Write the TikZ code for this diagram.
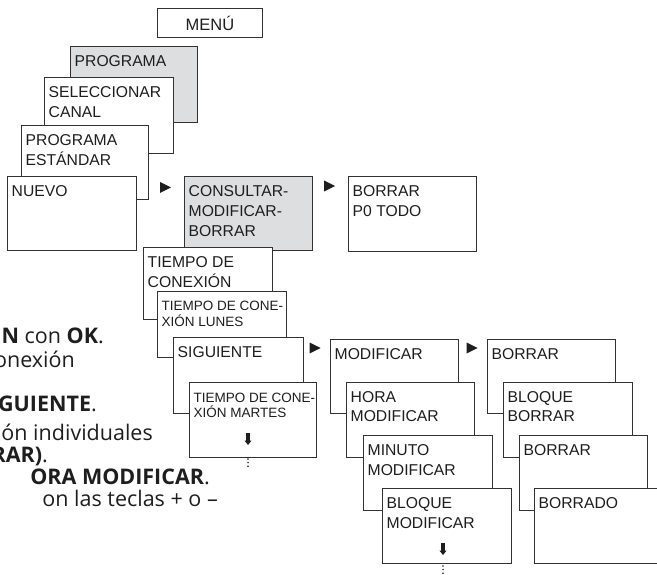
\documentclass[tikz,border=0pt]{standalone}
\usepackage{fontspec}
\setmainfont{Liberation Sans}
\newfontfamily\bodyfont{Open Sans}
\usetikzlibrary{calc}
\definecolor{boxgray}{RGB}{221,222,224}
\definecolor{edge}{RGB}{50,50,50}
\definecolor{ink}{RGB}{30,30,30}
\newcommand\twolines[2]{\vtop{\hbox{#1}\hbox{#2}}}
\newcommand\threelines[3]{\vtop{\hbox{#1}\hbox{#2}\hbox{#3}}}
\tikzset{
  panel/.style={draw=edge, line width=1pt, inner sep=0pt, anchor=north west, text=ink},
  bigtext/.style={font=\fontsize{15.7}{20}\selectfont, inner sep=0pt, text=ink},
  smalltext/.style={font=\fontsize{13.5}{16}\selectfont, inner sep=0pt, text=ink},
  bodytext/.style={font=\bodyfont\fontsize{21.5}{22}\selectfont, inner sep=0pt, text=ink, anchor=base east},
}
% name, x, y, width, height, fill, text style, text, baseline offset
\newcommand\panelbox[9]{%
  \node[panel, fill=#6, minimum width=#4pt, minimum height=#5pt] (#1) at (#2,#3) {};
  \node[#7, anchor=base west] (#1-t) at ($(#1.north west)+(4.5,#9)$) {#8};
}
\newcommand\tri[2]{\fill[ink] (#1,#2) -- (#1+11,#2+5.5) -- (#1,#2+11) -- cycle;}
\newcommand\dnarrow[2]{%
  \fill[ink] (#1-1.8,#2) rectangle (#1+1.8,#2+8);
  \fill[ink] (#1-3.6,#2+7.5) -- (#1+3.6,#2+7.5) -- (#1,#2+12) -- cycle;}
\newcommand\threedots[2]{%
  \foreach \d in {0,3.6,7.2} {\fill[ink] (#1,#2+\d) circle (0.85);}}
\begin{document}
\begin{tikzpicture}[x=1pt, y=-1pt]
\useasboundingbox (0,0) rectangle (657,575);

% MENU
\node[panel, fill=white, minimum width=105pt, minimum height=29pt,
      font=\fontsize{16.5}{20}\selectfont] (menu) at (157,8) {MENÚ};

% left stack
\panelbox{prog}{70}{46}{127}{76}{boxgray}{bigtext}{PROGRAMA}{20.5}
\panelbox{sel}{44}{77}{129}{76}{white}{bigtext}{\twolines{SELECCIONAR}{CANAL}}{20.5}
\panelbox{std}{21}{125}{127}{74}{white}{bigtext}{\twolines{PROGRAMA}{ESTÁNDAR}}{20.5}
\panelbox{nuevo}{7}{176}{129}{74}{white}{bigtext}{NUEVO}{21}
\tri{160}{182}

\panelbox{cons}{184}{176}{128}{74}{boxgray}{bigtext}{\threelines{CONSULTAR-}{MODIFICAR-}{BORRAR}}{21}
\tri{324}{180.5}
\panelbox{p0}{348}{176}{128}{75}{white}{bigtext}{\twolines{BORRAR}{P0 TODO}}{21}

% middle stack
\panelbox{tc}{143}{247}{129}{72}{white}{bigtext}{\twolines{TIEMPO DE}{CONEXIÓN}}{21}
\panelbox{lun}{157}{291}{129}{66}{white}{smalltext}{\twolines{TIEMPO DE CONE-}{XIÓN LUNES}}{19.5}
\panelbox{sig}{173}{337}{130}{76}{white}{bigtext}{SIGUIENTE}{20.5}
\tri{309.5}{342.5}
\panelbox{mar}{189}{382}{127}{75}{white}{smalltext}{\twolines{TIEMPO DE CONE-}{XIÓN MARTES}}{20}
\dnarrow{248}{433}
\threedots{248}{459}

% modify stack
\panelbox{mod}{330}{339}{128}{74}{white}{bigtext}{MODIFICAR}{20.5}
\tri{466.5}{342.5}
\panelbox{hora}{346}{382}{128}{75}{white}{bigtext}{\twolines{HORA}{MODIFICAR}}{20}
\panelbox{min}{363}{435}{129}{75}{white}{bigtext}{\twolines{MINUTO}{MODIFICAR}}{20}
\panelbox{blq}{382}{488}{129}{75}{white}{bigtext}{\twolines{BLOQUE}{MODIFICAR}}{20}
\dnarrow{443}{543}
\threedots{443}{566}

% delete stack
\panelbox{bor}{487}{339}{128}{74}{white}{bigtext}{BORRAR}{20.5}
\panelbox{bbor}{503}{382}{129}{75}{white}{bigtext}{\twolines{BLOQUE}{BORRAR}}{20}
\panelbox{bor2}{519}{435}{128}{75}{white}{bigtext}{BORRAR}{20}
\panelbox{brd}{534}{488}{140}{75}{white}{bigtext}{BORRADO}{20}

% cut-off body text on the left
\node[bodytext] (l1) at (104,344) {\textbf{N} con \textbf{OK}.};
\node[bodytext] (l2) at (75,367) {onexión};
\node[bodytext] (l3) at (97,411) {\textbf{GUIENTE}.};
\node[bodytext] (l4) at (153,440) {ión individuales};
\node[bodytext] (l5) at (48,462) {\textbf{RAR)}.};
\node[bodytext] (l6) at (210,484) {\textbf{ORA MODIFICAR}.};
\node[bodytext] (l7) at (218,506) {on las teclas + o –};
\end{tikzpicture}
\end{document}
